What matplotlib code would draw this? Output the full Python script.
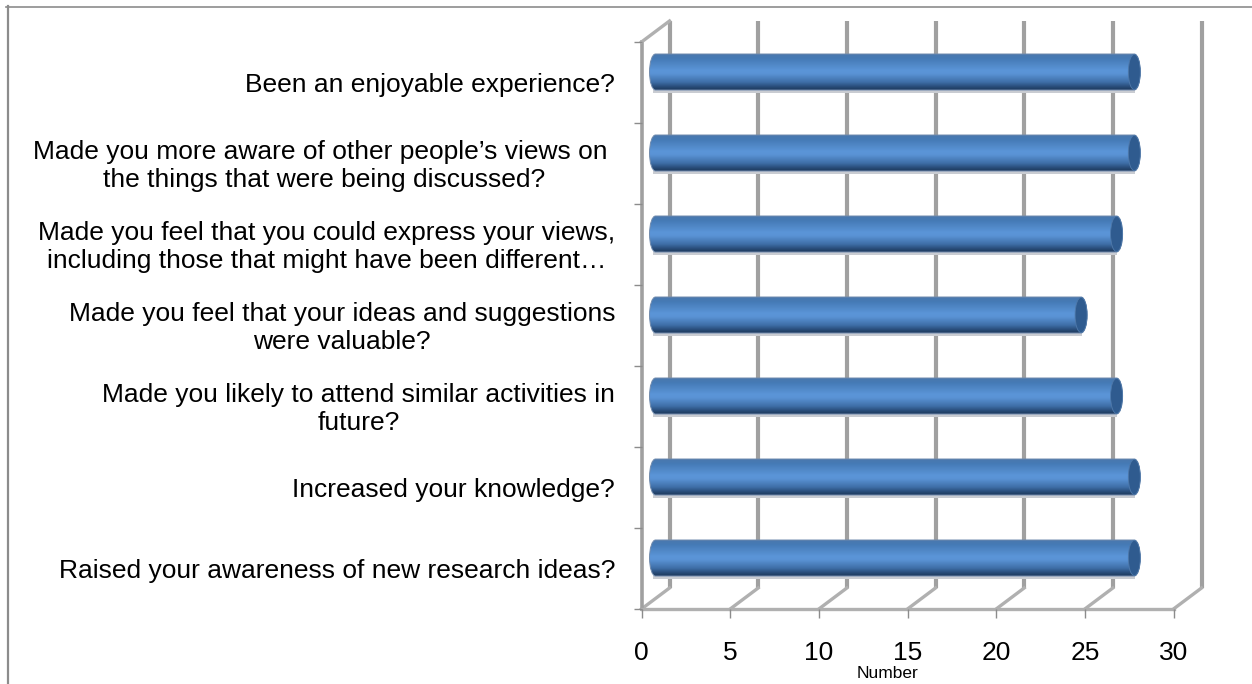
import numpy as np
import matplotlib
matplotlib.use("Agg")
import matplotlib.pyplot as plt
from matplotlib.path import Path
from matplotlib.patches import PathPatch, Ellipse, Rectangle
from matplotlib.colors import LinearSegmentedColormap
from matplotlib.lines import Line2D

plt.rcParams['font.family'] = ['Liberation Sans', 'DejaVu Sans']

categories = [
    "Been an enjoyable experience?",
    "Made you more aware of other people\u2019s views on \nthe things that were being discussed?",
    "Made you feel that you could express your views,\nincluding those that might have been different\u2026",
    "Made you feel that your ideas and suggestions\nwere valuable?",
    "Made you likely to attend similar activities in\nfuture?",
    "Increased your knowledge?",
    "Raised your awareness of new research ideas?",
]
values = [27, 27, 26, 24, 26, 27, 27]
xticks = [0, 5, 10, 15, 20, 25, 30]
xlabel = "Number"

W, H = 1252, 684
fig = plt.figure(figsize=(W / 100, H / 100), dpi=100, facecolor="white")
L, R, T, B = 641.5, 1173.5, 42, 609
ax = fig.add_axes([L / W, 1 - B / H, (R - L) / W, (B - T) / H])
ax.set_xlim(0, 30)
ax.set_ylim(7, 0)
ax.patch.set_alpha(0)
for s in ax.spines.values():
    s.set_visible(False)

UX = (R - L) / 30
UY = (B - T) / 7
DX, DY = 28 / UX, 21 / UY  # wall depth in data units
GRID = "#a0a0a0"

# walls, floor and gridlines
for t in xticks:
    ax.plot([t + DX, t + DX], [0 - DY, 7 - DY], color=GRID, lw=3, clip_on=False, zorder=1,
            solid_capstyle="butt")
    ax.plot([t, t + DX], [7, 7 - DY], color="#b0b0b0", lw=2.4, clip_on=False, zorder=1)
ax.plot([0, 0], [0, 7], color=GRID, lw=2.6, clip_on=False, zorder=1)
ax.plot([0, DX], [0, -DY], color="#b0b0b0", lw=2.4, clip_on=False, zorder=1)
ax.plot([0, 30], [7, 7], color="#b0b0b0", lw=2.4, clip_on=False, zorder=1)

# ticks
ax.set_xticks(xticks)
ax.set_xticklabels([str(t) for t in xticks], fontsize=19, color="black")
ax.tick_params(axis="x", length=6.5, width=1, color="#8c8c8c", pad=16.5)
ax.set_yticks(range(8))
ax.set_yticklabels([])
ax.tick_params(axis="y", length=5.5, width=1, color="#8c8c8c")

# category labels
for i, c in enumerate(categories):
    ax.annotate(c, xy=(0, i + 0.5), xycoords=("data", "data"), xytext=(-19, -2),
                textcoords="offset points", ha="right", va="center",
                multialignment="center", fontsize=19, linespacing=1.21, color="black")

fig.text(888 / W, 1 - 673 / H, xlabel, fontsize=12.5, ha="center", va="center", color="black")

# cylinders
cmap = LinearSegmentedColormap.from_list("cyl", [
    (0.0, "#4a78ae"), (0.12, "#457ab5"), (0.45, "#5b95d8"), (0.55, "#5a93d5"),
    (0.78, "#3f6fa8"), (0.92, "#274a75"), (1.0, "#1f3a5e")])
grad = np.linspace(0, 1, 128).reshape(-1, 1)
cap_dx = 6 / UX
for i, v in enumerate(values):
    yc = i + 0.5 - (DY / 2)
    h = 36 / UY
    x0 = DX / 2
    x1 = v + DX / 2
    left = x0 - cap_dx
    y0, y1 = yc - h / 2, yc + h / 2
    # soft shadow underneath
    ax.add_patch(Rectangle((x0 - cap_dx * 0.5, y1 - 0.005), v + cap_dx * 0.6, 3 / UY,
                           facecolor="#c9ccd2", edgecolor="none", zorder=2))
    k = 0.5523
    verts = [(x0, y0), (x1, y0),
             (x1 + k * cap_dx, y0), (x1 + cap_dx, yc - k * h / 2), (x1 + cap_dx, yc),
             (x1 + cap_dx, yc + k * h / 2), (x1 + k * cap_dx, y1), (x1, y1),
             (x0, y1),
             (x0 - k * cap_dx, y1), (x0 - cap_dx, yc + k * h / 2), (x0 - cap_dx, yc),
             (x0 - cap_dx, yc - k * h / 2), (x0 - k * cap_dx, y0), (x0, y0),
             (x0, y0)]
    codes = [Path.MOVETO, Path.LINETO, Path.CURVE4, Path.CURVE4, Path.CURVE4,
             Path.CURVE4, Path.CURVE4, Path.CURVE4, Path.LINETO,
             Path.CURVE4, Path.CURVE4, Path.CURVE4, Path.CURVE4, Path.CURVE4, Path.CURVE4,
             Path.CLOSEPOLY]
    body = PathPatch(Path(verts, codes), facecolor="none", edgecolor="#6f8aad", lw=0.7, zorder=4)
    ax.add_patch(body)
    im = ax.imshow(grad, extent=(left, x1 + cap_dx, y1, y0), cmap=cmap, aspect="auto", zorder=3,
                   interpolation="bilinear")
    im.set_clip_path(body)
    ax.add_patch(Ellipse((x1, yc), 2 * cap_dx, h * 0.98, facecolor="#2f5b8f",
                         edgecolor="#4f79aa", lw=0.6, zorder=5))
ax.set_xlim(0, 30)
ax.set_ylim(7, 0)
ax.set_aspect("auto")

# chart frame: top and left only
fig.add_artist(Line2D([6 / W, 1], [1 - 6.5 / H] * 2, color="#8c8c8c", lw=1.2))
fig.add_artist(Line2D([7.5 / W] * 2, [1 - 6 / H, 0], color="#8c8c8c", lw=1.6))

fig.savefig("out.png", dpi=100)
